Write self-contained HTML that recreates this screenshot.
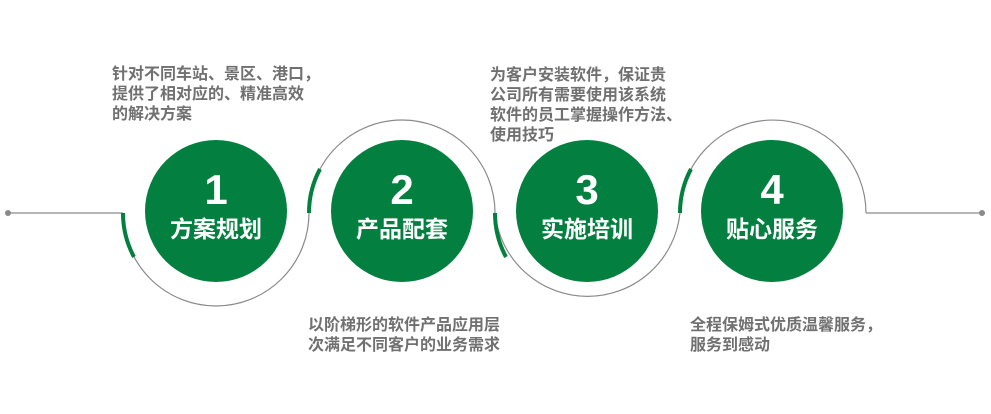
<!DOCTYPE html>
<html><head><meta charset="utf-8"><style>
body{margin:0;width:991px;height:414px;background:#fff;position:relative;overflow:hidden;font-family:"Liberation Sans","Noto Sans CJK SC",sans-serif}
.t{position:absolute;color:#707070;font-weight:bold;font-size:16px;line-height:20px;white-space:nowrap}
.c{position:absolute;width:142px;height:142px;border-radius:50%;background:#037f3f;color:#fff;text-align:center;font-weight:bold}
.n{position:absolute;left:0;right:0;top:28px;font-size:42px;line-height:44px}
.l{position:absolute;left:0;right:0;top:76px;font-size:23px;line-height:26px}
</style></head><body>
<svg width="991" height="414" style="position:absolute;left:0;top:0">
<g fill="none" stroke="#8a8a8a" stroke-width="1.2">
<line x1="8" y1="213" x2="123" y2="213"/>
<path d="M123 213 A93 93 0 0 0 309 213"/>
<path d="M309 213 A93 93 0 0 1 495 213"/>
<path d="M495 213 A93 93 0 0 0 680 213"/>
<path d="M680 213 A93 93 0 0 1 866 213"/>
<line x1="866" y1="213" x2="982" y2="213"/>
</g>
<circle cx="8" cy="213" r="3" fill="#8a8a8a"/>
<circle cx="982" cy="213" r="3" fill="#8a8a8a"/>
<g fill="none" stroke="#037f3f" stroke-width="4">
<path d="M123 213 A93 93 0 0 0 134 257"/>
<path d="M309 213 A93 93 0 0 1 320 169"/>
<path d="M495 213 A93 93 0 0 0 506 257"/>
<path d="M680 213 A93 93 0 0 1 691 169"/>
</g>
</svg>
<div class="c" style="left:145px;top:140px"><div class="n">1</div><div class="l">方案规划</div></div>
<div class="c" style="left:331px;top:140px"><div class="n">2</div><div class="l">产品配套</div></div>
<div class="c" style="left:516px;top:140px"><div class="n">3</div><div class="l">实施培训</div></div>
<div class="c" style="left:701px;top:140px"><div class="n">4</div><div class="l">贴心服务</div></div>
<div class="t" style="left:112px;top:65px">针对不同车站、景区、港口，<br>提供了相对应的、精准高效<br>的解决方案</div>
<div class="t" style="left:490px;top:66px">为客户安装软件，保证贵<br>公司所有需要使用该系统<br>软件的员工掌握操作方法、<br>使用技巧</div>
<div class="t" style="left:308px;top:316px">以阶梯形的软件产品应用层<br>次满足不同客户的业务需求</div>
<div class="t" style="left:690px;top:316px">全程保姆式优质温馨服务，<br>服务到感动</div>
</body></html>
